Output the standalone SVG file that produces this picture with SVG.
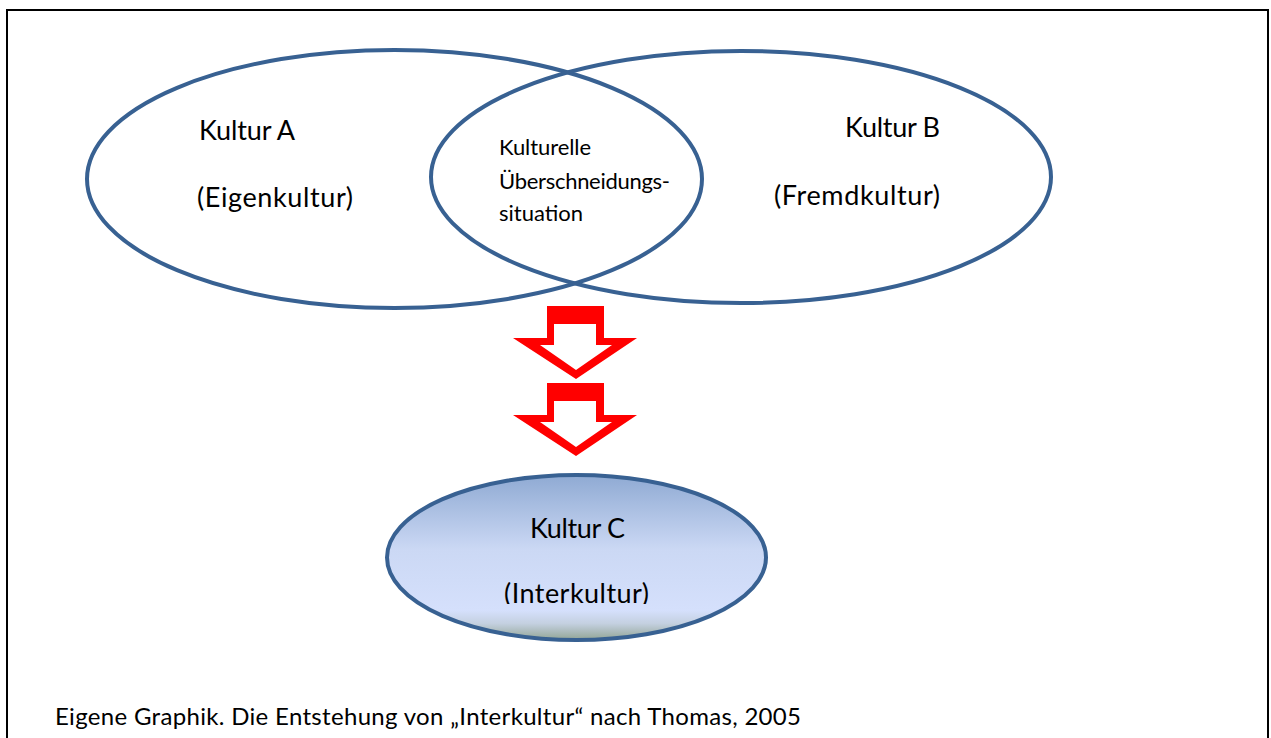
<svg xmlns="http://www.w3.org/2000/svg" width="1271" height="738" viewBox="0 0 1271 738">
<style>
.ell{fill:none;stroke:#386192;stroke-width:4}
.t{font-family:Lato,"Open Sans","Liberation Sans",sans-serif;fill:#000}
.big{font-size:27px}
.mid{font-size:22px}
.cap{font-size:24px}
.arr{fill:#ff0000;fill-rule:evenodd;stroke:none}
</style>
<defs>
<linearGradient id="gc" x1="0" y1="0" x2="0" y2="1">
<stop offset="0" stop-color="#8faad3"/>
<stop offset="0.45" stop-color="#cbd8f4"/>
<stop offset="0.82" stop-color="#d5e0fc"/>
<stop offset="0.9" stop-color="#c4d0e0"/>
<stop offset="1" stop-color="#92a595"/>
</linearGradient>
<clipPath id="cc"><rect x="380" y="470" width="400" height="134"/></clipPath>
<path id="arrow" d="M547,306 H604 V338 H637 L576,379 L513,338 H547 Z M554,324 V345 H540 L576,370 L612,345 H596 V324 Z"/>
</defs>
<rect width="1271" height="738" fill="#fff"/>
<path d="M7,738 V10 H1268 V738" fill="none" stroke="#000" stroke-width="2"/>
<g id="kulturA">
<ellipse class="ell" cx="394.5" cy="179" rx="307.5" ry="129"/>
<text class="t big" x="199" y="140" textLength="96">Kultur A</text>
<text class="t big" x="197" y="207" textLength="156">(Eigenkultur)</text>
</g>
<g id="kulturB">
<ellipse class="ell" cx="741" cy="177" rx="310" ry="126"/>
<text class="t big" x="845" y="137" textLength="95">Kultur B</text>
<text class="t big" x="774" y="205" textLength="166">(Fremdkultur)</text>
</g>
<g id="ueberschneidung">
<text class="t mid" x="499" y="155" textLength="92">Kulturelle</text>
<text class="t mid" x="499" y="189" textLength="171">Überschneidungs-</text>
<text class="t mid" x="499" y="221" textLength="84">situation</text>
</g>
<g id="connectors">
<use href="#arrow" class="arr"/>
<use href="#arrow" class="arr" transform="translate(0,77)"/>
</g>
<g id="kulturC">
<ellipse cx="576.5" cy="557.5" rx="189.5" ry="82.5" fill="url(#gc)" stroke="#386192" stroke-width="4"/>
<text class="t big" x="530" y="538" textLength="95">Kultur C</text>
<text class="t big" x="504" y="603" textLength="145" clip-path="url(#cc)">(Interkultur)</text>
</g>
<g id="caption">
<text class="t cap" x="55" y="725" textLength="746">Eigene Graphik. Die Entstehung von „Interkultur“ nach Thomas, 2005</text>
</g>
</svg>
